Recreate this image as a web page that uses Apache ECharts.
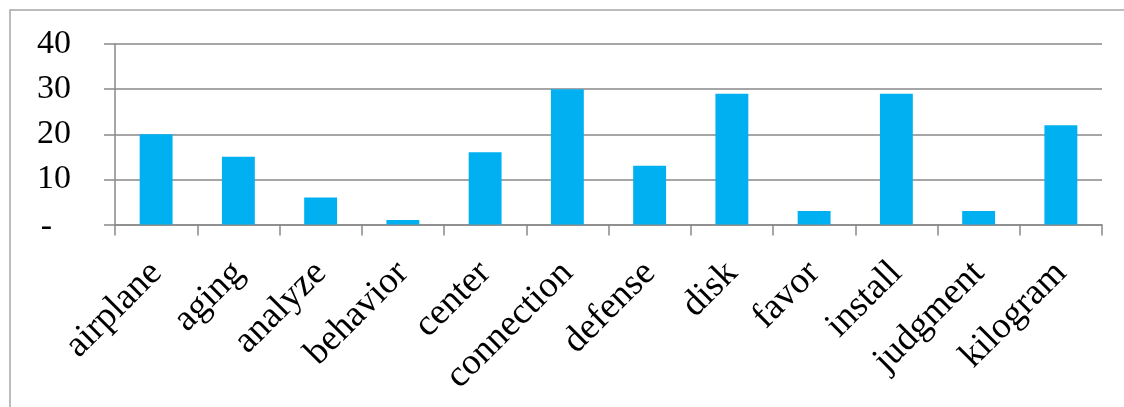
<!DOCTYPE html>
<html>
<head>
<meta charset="utf-8">
<style>
  html, body { margin: 0; padding: 0; background: #fff; }
  #chart { width: 1124px; height: 407px; }
</style>
<script src="https://cdn.jsdelivr.net/npm/echarts@6/dist/echarts.min.js"></script>
</head>
<body>
<div id="chart"></div>
<script>
// Word counts per category
const categories = ['airplane', 'aging', 'analyze', 'behavior', 'center', 'connection',
  'defense', 'disk', 'favor', 'install', 'judgment', 'kilogram'];
const counts = [20, 15, 6, 1, 16, 30, 13, 29, 3, 29, 3, 22];

const yMin = 0;
const yMax = 40;
const yStep = 10;

const serif = '"Liberation Serif", "DejaVu Serif", serif';
const lineGrey = '#898989';

const chart = echarts.init(document.getElementById('chart'), null, { renderer: 'canvas' });

chart.setOption({
  animation: false,
  backgroundColor: '#ffffff',
  graphic: [{
    type: 'rect',
    shape: { x: 10, y: 10, width: 1200, height: 600 },
    style: { fill: 'none', stroke: '#a6a6a6', lineWidth: 1.5 },
    silent: true
  }],
  grid: { left: 115, right: 22, top: 44, bottom: 182.5, containLabel: false },
  xAxis: {
    type: 'category',
    data: categories,
    boundaryGap: true,
    axisLine: { show: true, lineStyle: { color: lineGrey, width: 1.5 } },
    axisTick: { show: true, alignWithLabel: false, interval: 0, length: 11, lineStyle: { color: lineGrey, width: 1.5 } },
    axisLabel: {
      interval: 0,
      rotate: 45,
      margin: 43,
      color: '#000',
      fontFamily: serif,
      fontSize: 37
    }
  },
  yAxis: {
    type: 'value',
    min: yMin,
    max: yMax,
    interval: yStep,
    axisLine: { show: true, lineStyle: { color: lineGrey, width: 1.5 } },
    axisTick: { show: true, inside: false, length: 11, lineStyle: { color: lineGrey, width: 1.5 } },
    splitLine: { show: true, lineStyle: { color: lineGrey, width: 1.5 } },
    axisLabel: {
      margin: 44,
      color: '#000',
      fontFamily: serif,
      fontSize: 34,
      formatter: function (v) { return v === 0 ? '{z|-}' : '{n|' + v + '}'; },
      rich: {
        n: { fontFamily: serif, fontSize: 34, color: '#000' },
        z: { fontFamily: serif, fontSize: 34, color: '#000', padding: [5, 19, 0, 0] }
      }
    }
  },
  series: [{
    type: 'bar',
    data: counts,
    barWidth: '40%',
    itemStyle: { color: '#00B0F0' }
  }]
});
</script>
</body>
</html>
